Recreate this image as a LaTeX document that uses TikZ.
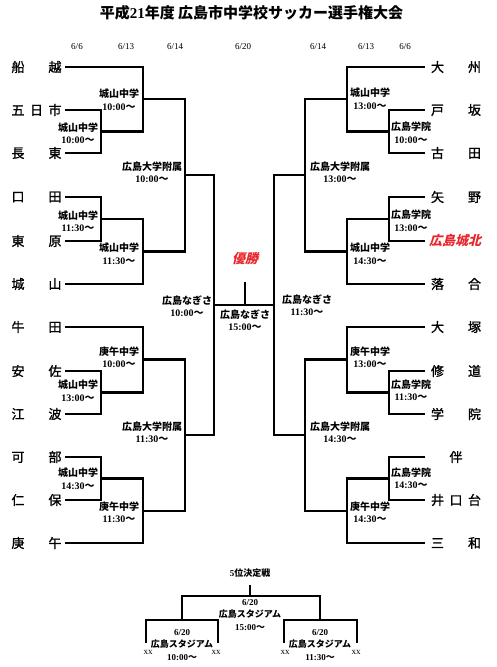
\documentclass[tikz,border=0pt]{standalone}
\usepackage{fontspec}
\setmainfont{Liberation Serif}
\newfontfamily\jp{Noto Sans CJK JP}
\newfontfamily\jpm[FakeBold=1.2]{Noto Sans CJK JP}
\newfontfamily\jpsl[FakeSlant=0.25]{Noto Sans CJK JP}
\definecolor{redtxt}{HTML}{E8262C}
\newcommand{\tm}[1]{{\rmfamily #1}〜}
\tikzset{
  br/.style={line width=2.6pt, line join=miter},
  team/.style={font=\jpm\fontsize{13}{13}\selectfont, inner sep=0pt},
  lab/.style={font=\jp\bfseries\fontsize{10}{12.5}\selectfont, align=center, inner sep=0pt},
  slab/.style={font=\jp\bfseries\fontsize{9}{12.5}\selectfont, align=center, inner sep=0pt},
  dt/.style={font=\fontsize{9}{9}\selectfont, inner sep=0pt},
  win/.style={font=\jpsl\bfseries\fontsize{13}{13}\selectfont, text=redtxt, inner sep=0pt},
}
\begin{document}
\begin{tikzpicture}[x=1pt,y=-1pt]
\useasboundingbox (0,0) rectangle (497,667);
% title
\node[font=\jp\bfseries\fontsize{15}{15}\selectfont, inner sep=0pt] (title) at (251.5,13) {平成{\rmfamily 21}年度 広島市中学校サッカー選手権大会};
% dates
\node[dt] (d1) at (77,47) {6/6};
\node[dt] (d2) at (126,47) {6/13};
\node[dt] (d3) at (175,47) {6/14};
\node[dt] (d4) at (243,47) {6/20};
\node[dt] (d5) at (318,47) {6/14};
\node[dt] (d6) at (366,47) {6/13};
\node[dt] (d7) at (405,47) {6/6};
% left teams
\node[team] (t1) at (36.5,67) {船\hspace{24pt}越};
\node[team] (t2) at (36.5,110) {五\hspace{5.5pt}日\hspace{5.5pt}市};
\node[team] (t3) at (36.5,153) {長\hspace{24pt}東};
\node[team] (t4) at (36.5,197) {口\hspace{24pt}田};
\node[team] (t5) at (36.5,241) {東\hspace{24pt}原};
\node[team] (t6) at (36.5,284) {城\hspace{24pt}山};
\node[team] (t7) at (36.5,327) {牛\hspace{24pt}田};
\node[team] (t8) at (36.5,371) {安\hspace{24pt}佐};
\node[team] (t9) at (36.5,414) {江\hspace{24pt}波};
\node[team] (t10) at (36.5,457) {可\hspace{24pt}部};
\node[team] (t11) at (36.5,500) {仁\hspace{24pt}保};
\node[team] (t12) at (36.5,543) {庚\hspace{24pt}午};
% right teams
\node[team] (s1) at (456,67) {大\hspace{24pt}州};
\node[team] (s2) at (456,110) {戸\hspace{24pt}坂};
\node[team] (s3) at (456,153) {古\hspace{24pt}田};
\node[team] (s4) at (456,197) {矢\hspace{24pt}野};
\node[win] (s5) at (455,241) {広島城北};
\node[team] (s6) at (456,284) {落\hspace{24pt}合};
\node[team] (s7) at (456,327) {大\hspace{24pt}塚};
\node[team] (s8) at (456,371) {修\hspace{24pt}道};
\node[team] (s9) at (456,414) {学\hspace{24pt}院};
\node[team] (s10) at (456,457) {伴};
\node[team] (s11) at (456,500) {井\hspace{5.5pt}口\hspace{5.5pt}台};
\node[team] (s12) at (456,543) {三\hspace{24pt}和};
% left coordinates
\coordinate (L1) at (65,67);  \coordinate (L2) at (65,110); \coordinate (L3) at (65,153);
\coordinate (L4) at (65,197); \coordinate (L5) at (65,241); \coordinate (L6) at (65,284);
\coordinate (L7) at (65,327); \coordinate (L8) at (65,371); \coordinate (L9) at (65,414);
\coordinate (L10) at (65,457); \coordinate (L11) at (65,500); \coordinate (L12) at (65,543);
\coordinate (A1) at (101,131.5); \coordinate (B1) at (143,99);
\coordinate (A2) at (101,219);   \coordinate (B2) at (143,251.5);
\coordinate (C1) at (185,175);
\coordinate (A3) at (101,392.5); \coordinate (B3) at (143,359.5);
\coordinate (A4) at (101,478.5); \coordinate (B4) at (143,511);
\coordinate (C2) at (185,435);
\coordinate (D1) at (214,305);
% right coordinates
\coordinate (R1) at (425,67);  \coordinate (R2) at (425,110); \coordinate (R3) at (425,153);
\coordinate (R4) at (425,197); \coordinate (R5) at (425,241); \coordinate (R6) at (425,284);
\coordinate (R7) at (425,327); \coordinate (R8) at (425,371); \coordinate (R9) at (425,414);
\coordinate (R10) at (425,457); \coordinate (R11) at (425,500); \coordinate (R12) at (425,543);
\coordinate (RA1) at (389,131.5); \coordinate (RB1) at (347,99);
\coordinate (RA2) at (389,219);   \coordinate (RB2) at (347,251.5);
\coordinate (RC1) at (305,175);
\coordinate (RA3) at (389,392.5); \coordinate (RB3) at (347,359.5);
\coordinate (RA4) at (389,478.5); \coordinate (RB4) at (347,511);
\coordinate (RC2) at (305,435);
\coordinate (RD1) at (274,305);
\coordinate (F) at (245,305); \coordinate (W) at (245,282);
% left brackets
\draw[br] (L2) -| (A1) |- (L3);
\draw[br] (L1) -| (B1) |- (A1);
\draw[br] (L4) -| (A2) |- (L5);
\draw[br] (A2) -| (B2) |- (L6);
\draw[br] (B1) -| (C1) |- (B2);
\draw[br] (L8) -| (A3) |- (L9);
\draw[br] (L7) -| (B3) |- (A3);
\draw[br] (L10) -| (A4) |- (L11);
\draw[br] (A4) -| (B4) |- (L12);
\draw[br] (B3) -| (C2) |- (B4);
\draw[br] (C1) -| (D1) |- (C2);
% right brackets
\draw[br] (R2) -| (RA1) |- (R3);
\draw[br] (R1) -| (RB1) |- (RA1);
\draw[br] (R4) -| (RA2) |- (R5);
\draw[br] (RA2) -| (RB2) |- (R6);
\draw[br] (RB1) -| (RC1) |- (RB2);
\draw[br] (R8) -| (RA3) |- (R9);
\draw[br] (R7) -| (RB3) |- (RA3);
\draw[br] (R10) -| (RA4) |- (R11);
\draw[br] (RA4) -| (RB4) |- (R12);
\draw[br] (RB3) -| (RC2) |- (RB4);
\draw[br] (RC1) -| (RD1) |- (RC2);
% final
\draw[br] (D1) -- (RD1);
\draw[br] (F) -- (W);
\node[win] (champ) at (245,259) {優勝};
\node[lab] (fin) at (245,320) {広島なぎさ\\\tm{15:00}};
% left labels
\node[lab] (la1) at (119,99.5) {城山中学\\\tm{10:00}};
\node[lab] (la2) at (78,133) {城山中学\\\tm{10:00}};
\node[lab] (la3) at (152,172.5) {広島大学附属\\\tm{10:00}};
\node[lab] (la4) at (78,221) {城山中学\\\tm{11:30}};
\node[lab] (la5) at (119,253.5) {城山中学\\\tm{11:30}};
\node[lab] (la6) at (187,306) {広島なぎさ\\\tm{10:00}};
\node[lab] (la7) at (119,357.5) {庚午中学\\\tm{10:00}};
\node[lab] (la8) at (78,390.5) {城山中学\\\tm{13:00}};
\node[lab] (la9) at (152,432.5) {広島大学附属\\\tm{11:30}};
\node[lab] (la10) at (78,478.5) {城山中学\\\tm{14:30}};
\node[lab] (la11) at (119,512.5) {庚午中学\\\tm{11:30}};
% right labels
\node[lab] (ra1) at (370,98.5) {城山中学\\\tm{13:00}};
\node[lab] (ra2) at (411,133) {広島学院\\\tm{10:00}};
\node[lab] (ra3) at (340,172.5) {広島大学附属\\\tm{13:00}};
\node[lab] (ra4) at (411,221) {広島学院\\\tm{13:00}};
\node[lab] (ra5) at (370,253.5) {城山中学\\\tm{14:30}};
\node[lab] (ra6) at (307,305) {広島なぎさ\\\tm{11:30}};
\node[lab] (ra7) at (370,357.5) {庚午中学\\\tm{13:00}};
\node[lab] (ra8) at (411,390.5) {広島学院\\\tm{11:30}};
\node[lab] (ra9) at (340,432.5) {広島大学附属\\\tm{14:30}};
\node[lab] (ra10) at (411,478.5) {広島学院\\\tm{14:30}};
\node[lab] (ra11) at (370,512.5) {庚午中学\\\tm{14:30}};
% 5th place
\node[slab] (fifth) at (250,573) {{\rmfamily 5}位決定戦};
\coordinate (P5) at (250,585); \coordinate (P) at (250,596);
\coordinate (QL) at (182,620); \coordinate (QR) at (320,620);
\coordinate (bl1) at (146,643); \coordinate (br1) at (218,643);
\coordinate (bl2) at (284,643); \coordinate (br2) at (357,643);
\draw[br] (P5) -- (P);
\draw[br] (QL) |- (P) -| (QR);
\draw[br] (bl1) |- (QL) -| (br1);
\draw[br] (bl2) |- (QR) -| (br2);
\node[slab] (g0) at (250,615) {{\rmfamily 6/20}\\広島スタジアム\\\tm{15:00}};
\node[slab] (g1) at (182,645) {{\rmfamily 6/20}\\広島スタジアム\\\tm{10:00}};
\node[slab] (g2) at (320,645) {{\rmfamily 6/20}\\広島スタジアム\\\tm{11:30}};
\node[dt] (x1) at (148,652) {xx};
\node[dt] (x2) at (216,652) {xx};
\node[dt] (x3) at (285,652) {xx};
\node[dt] (x4) at (356,652) {xx};
\end{tikzpicture}
\end{document}
